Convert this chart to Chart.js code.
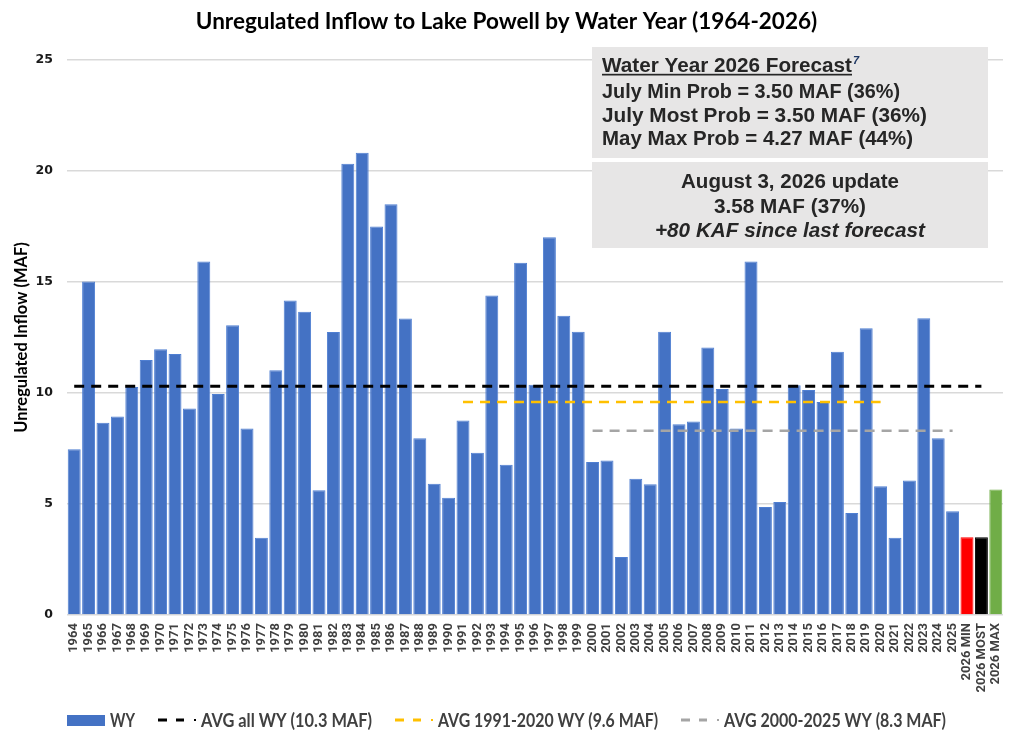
<!DOCTYPE html>
<html>
<head>
<meta charset="utf-8">
<script src="https://cdn.jsdelivr.net/npm/chart.js@4.4.1/dist/chart.umd.min.js"></script>
<style>
  html, body { margin: 0; padding: 0; background: #fff; }
  #wrap { width: 1024px; height: 749px; }
</style>
</head>
<body>
<div id="wrap"><canvas id="chart"></canvas></div>
<script>
// categories (water years + the three 2026 forecast bars)
const waterYears = [
  '1964','1965','1966','1967','1968','1969','1970','1971','1972','1973',
  '1974','1975','1976','1977','1978','1979','1980','1981','1982','1983',
  '1984','1985','1986','1987','1988','1989','1990','1991','1992','1993',
  '1994','1995','1996','1997','1998','1999','2000','2001','2002','2003',
  '2004','2005','2006','2007','2008','2009','2010','2011','2012','2013',
  '2014','2015','2016','2017','2018','2019','2020','2021','2022','2023',
  '2024','2025','2026 MIN','2026 MOST','2026 MAX'
];

// unregulated inflow, MAF
const inflow = [
  7.47, 15.02, 8.66, 8.94, 10.27, 11.49, 11.97, 11.76, 9.30, 15.92,
  9.96, 13.05, 8.40, 3.48, 11.03, 14.17, 13.66, 5.62, 12.75, 20.33,
  20.82, 17.50, 18.50, 13.36, 7.96, 5.91, 5.28, 8.76, 7.31, 14.39,
  6.77, 15.87, 10.37, 17.02, 13.48, 12.76, 6.89, 6.96, 2.61, 6.14,
  5.89, 12.76, 8.59, 8.72, 12.05, 10.18, 8.40, 15.92, 4.87, 5.09,
  10.35, 10.13, 9.59, 11.86, 4.60, 12.92, 5.80, 3.48, 6.06, 13.37,
  7.96, 4.67, 3.50, 3.50, 5.65
];

// average lines: value and first/last category they span
const avgLabels = ['AVG all WY (10.3 MAF)', 'AVG 1991-2020 WY (9.6 MAF)', 'AVG 2000-2025 WY (8.3 MAF)'];
const avgValues = [10.3, 9.6, 8.3];
const avgFrom = ['1964', '1991', '2000'];
const avgTo = ['2026 MOST', '2020', '2025'];

const yTicks = [0, 5, 10, 15, 20, 25];

const forecastLines = [
  'Water Year 2026 Forecast',
  'July Min Prob = 3.50 MAF (36%)',
  'July Most Prob = 3.50 MAF (36%)',
  'May Max Prob = 4.27 MAF (44%)'
];
const updateLines = [
  'August 3, 2026 update',
  '3.58 MAF (37%)',
  '+80 KAF since last forecast'
];

const BLUE = '#4472c4';
const avgColors = ['#000000', '#ffc000', '#a5a5a5'];
const barColors = waterYears.map(y =>
  y === '2026 MIN' ? '#ff0000' : y === '2026 MOST' ? '#000000' : y === '2026 MAX' ? '#70ad47' : BLUE);

function spanLine(value, from, to) {
  const a = waterYears.indexOf(from), b = waterYears.indexOf(to);
  return waterYears.map((_, i) => (i >= a && i <= b) ? value : null);
}

// draw text stretched/squeezed to a given width
function fitText(ctx, text, x, y, width, align) {
  const w = ctx.measureText(text).width;
  ctx.save();
  ctx.textAlign = align || 'left';
  ctx.translate(x, y);
  ctx.scale(width / w, 1);
  ctx.fillText(text, 0, 0);
  ctx.restore();
}

const forecastBoxes = {
  id: 'forecastBoxes',
  afterDraw(chart) {
    const ctx = chart.ctx;
    ctx.save();
    ctx.fillStyle = '#e7e6e6';
    ctx.fillRect(592, 47, 396, 111);
    ctx.fillRect(592, 162, 396, 86);

    ctx.fillStyle = '#262626';
    ctx.textBaseline = 'alphabetic';
    ctx.font = 'bold 19.5px "Liberation Sans", Arial, sans-serif';
    const x0 = 602;
    const base1 = [71.7, 98.3, 121.7, 145];
    const widths1 = [250, 298, 325, 311];
    forecastLines.forEach((t, i) => fitText(ctx, t, x0, base1[i], widths1[i]));
    // underline on the heading
    ctx.fillRect(x0, 73.8, widths1[0], 1.7);
    // footnote mark
    ctx.fillStyle = '#1f3864';
    ctx.font = 'italic bold 11px "Liberation Sans", Arial, sans-serif';
    ctx.fillText('7', x0 + widths1[0] + 1, 64);

    ctx.fillStyle = '#262626';
    const cx = 790;
    const base2 = [188.3, 213.3, 236.7];
    const widths2 = [218, 152, 270];
    updateLines.forEach((t, i) => {
      ctx.font = (i === 2 ? 'italic ' : '') + 'bold 19.5px "Liberation Sans", Arial, sans-serif';
      fitText(ctx, t, cx, base2[i], widths2[i], 'center');
    });
    ctx.restore();
  }
};

const bottomLegend = {
  id: 'bottomLegend',
  afterDraw(chart) {
    const ctx = chart.ctx;
    const ds = chart.data.datasets;
    const yc = 720;
    ctx.save();
    ctx.font = 'bold 19px Lato, sans-serif';
    ctx.textBaseline = 'middle';

    // bar swatch
    ctx.fillStyle = BLUE;
    ctx.fillRect(67, yc - 5, 38, 11);
    ctx.fillStyle = '#404040';
    fitText(ctx, ds[0].label, 110, yc + 1, 25);

    const textX = [201, 438, 724];
    const textW = [171, 220, 222];
    for (let i = 0; i < 3; i++) {
      const d = ds[i + 1];
      const tx = textX[i];
      ctx.strokeStyle = d.borderColor;
      ctx.lineWidth = 3;
      ctx.beginPath();
      ctx.moveTo(tx - 43, yc); ctx.lineTo(tx - 34, yc);
      ctx.moveTo(tx - 25, yc); ctx.lineTo(tx - 17, yc);
      ctx.stroke();
      ctx.lineWidth = 2;
      ctx.beginPath();
      ctx.moveTo(tx - 7, yc); ctx.lineTo(tx - 5, yc);
      ctx.stroke();
      ctx.fillStyle = '#404040';
      fitText(ctx, d.label, tx, yc + 1, textW[i]);
    }
    ctx.restore();
  }
};

const lineSets = avgLabels.map((label, i) => ({
  type: 'line',
  label: label,
  data: spanLine(avgValues[i], avgFrom[i], avgTo[i]),
  borderColor: avgColors[i],
  borderWidth: i === 0 ? 3 : 2.5,
  borderDash: [10, 7],
  pointRadius: 0,
  fill: false,
  spanGaps: false,
  order: 0
}));

new Chart(document.getElementById('chart'), {
  type: 'bar',
  data: {
    labels: waterYears,
    datasets: [{
      label: 'WY',
      data: inflow,
      backgroundColor: barColors,
      borderColor: barColors.map(c => c === BLUE ? '#4f7fd2' : c),
      borderWidth: 1,
      barPercentage: 0.9,
      categoryPercentage: 1.0,
      order: 1
    }].concat(lineSets)
  },
  options: {
    responsive: true,
    maintainAspectRatio: false,
    animation: false,
    layout: { padding: { left: 10, right: 21, top: 0, bottom: 0 } },
    plugins: {
      legend: { display: false },
      tooltip: { enabled: false },
      title: {
        display: true,
        text: 'Unregulated Inflow to Lake Powell by Water Year (1964-2026)',
        color: '#000000',
        font: { family: 'Lato', weight: 'bold', size: 22.5 },
        padding: { top: 8, bottom: 25 }
      }
    },
    scales: {
      x: {
        grid: { display: false, drawTicks: false },
        border: { display: false },
        ticks: {
          autoSkip: false,
          maxRotation: 90,
          minRotation: 90,
          padding: 8,
          color: '#404040',
          font: { family: 'Roboto', weight: 'bold', size: 13 }
        },
        afterFit: (s) => { s.height = 134; }
      },
      y: {
        min: 0,
        max: 25,
        afterBuildTicks: (s) => { s.ticks = yTicks.map(v => ({ value: v })); },
        grid: { color: '#d9d9d9', lineWidth: 1.5, drawTicks: false },
        border: { display: false },
        ticks: {
          padding: 14,
          color: '#1a1a1a',
          font: { family: 'DejaVu Sans', weight: 'bold', size: 12.5 }
        },
        title: {
          display: true,
          text: 'Unregulated Inflow (MAF)',
          color: '#000000',
          font: { family: 'Lato', weight: 'bold', size: 16.5 },
          padding: { top: 2, bottom: 0 }
        },
        afterFit: (s) => { s.width = 57; }
      }
    }
  },
  plugins: [forecastBoxes, bottomLegend]
});
</script>
</body>
</html>
